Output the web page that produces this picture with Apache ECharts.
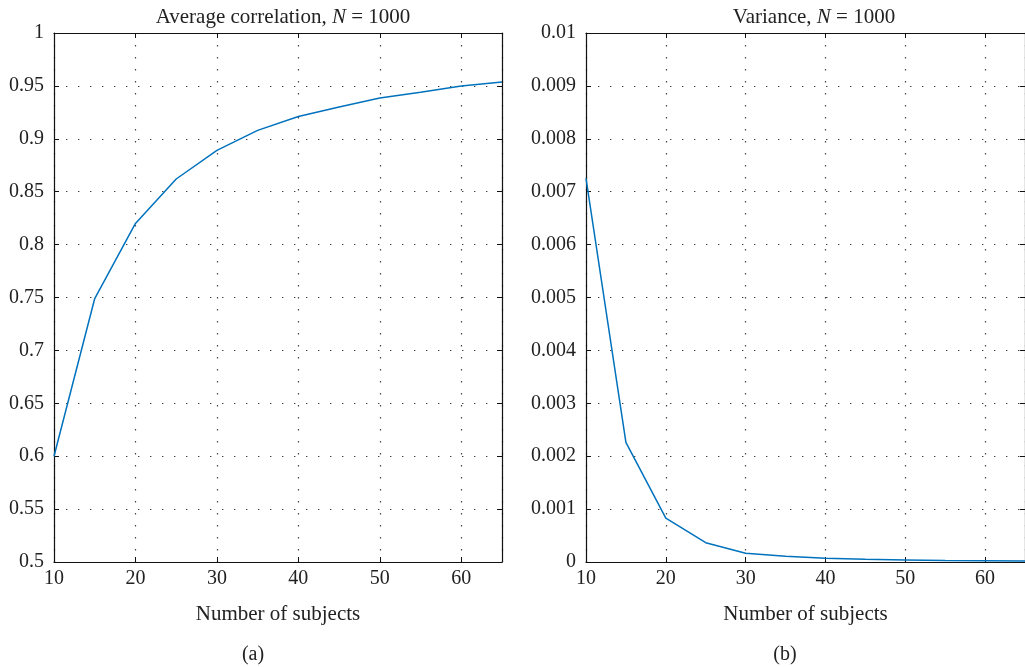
<!DOCTYPE html>
<html>
<head>
<meta charset="utf-8">
<script src="https://cdn.jsdelivr.net/npm/echarts@6/dist/echarts.min.js"></script>
<style>
  html, body { margin: 0; padding: 0; background: #fff; }
  #main { width: 1025px; height: 667px; }
</style>
</head>
<body>
<div id="main"></div>
<script>
// number of subjects (x)
var subjects = [10, 15, 20, 25, 30, 35, 40, 45, 50, 55, 60, 65];
// panel (a): average correlation
var avgCorr = [0.6, 0.749, 0.82, 0.862, 0.889, 0.908, 0.921, 0.930, 0.9385, 0.944, 0.950, 0.9537];
// panel (b): variance
var variance = [0.00725, 0.00226, 0.00083, 0.000365, 0.000165, 0.000107, 0.00007, 0.00005, 0.00004, 0.00003, 0.000025, 0.00002];

var FONT = 'Liberation Serif';
var INK = '#222';

function pairs(xs, ys) {
    return xs.map(function (x, i) { return [x, ys[i]]; });
}

var dotted = {show: true, lineStyle: {color: '#444', width: 1.2, type: [1.4, 10.6]}};

function xAxisBottom(g) {
    return {
        type: 'value', gridIndex: g, min: 10, max: 65, interval: 10,
        name: 'Number of subjects', nameLocation: 'middle', nameGap: 42,
        nameTextStyle: {fontFamily: FONT, fontSize: 21, color: INK},
        axisLine: {onZero: false, lineStyle: {color: '#111', width: 1.2}},
        axisTick: {inside: true, length: 5, lineStyle: {color: '#111'}},
        axisLabel: {fontFamily: FONT, fontSize: 20, color: INK, margin: 7, showMaxLabel: false},
        splitLine: dotted
    };
}
function xAxisTop(g) {
    return {
        type: 'value', gridIndex: g, position: 'top', min: 10, max: 65, interval: 10,
        axisLine: {onZero: false, lineStyle: {color: '#111', width: 1.2}},
        axisTick: {inside: true, length: 5, lineStyle: {color: '#111'}},
        axisLabel: {show: false},
        splitLine: {show: false}
    };
}
function yAxisLeft(g, min, max, step) {
    return {
        type: 'value', gridIndex: g, min: min, max: max, interval: step,
        axisLine: {show: true, onZero: false, lineStyle: {color: '#111', width: 1.2}},
        axisTick: {show: true, inside: true, length: 5, lineStyle: {color: '#111'}},
        axisLabel: {fontFamily: FONT, fontSize: 20, color: INK, margin: 10},
        splitLine: dotted
    };
}
function yAxisRight(g, min, max, step) {
    return {
        type: 'value', gridIndex: g, position: 'right', min: min, max: max, interval: step,
        axisLine: {show: true, onZero: false, lineStyle: {color: '#111', width: 1.2}},
        axisTick: {show: true, inside: true, length: 5, lineStyle: {color: '#111'}},
        axisLabel: {show: false},
        splitLine: {show: false}
    };
}

var titleRich = {
    a: {fontFamily: FONT, fontSize: 21, color: INK, fontWeight: 'normal'},
    i: {fontFamily: FONT, fontSize: 21, color: INK, fontWeight: 'normal', fontStyle: 'italic'}
};

var option = {
    backgroundColor: '#fff',
    animation: false,
    title: [
        {text: '{a|Average correlation, }{i|N}{a| = 1000}', left: 278, top: 2, textAlign: 'center',
            textStyle: {fontWeight: 'normal', rich: titleRich}},
        {text: '{a|Variance, }{i|N}{a| = 1000}', left: 809, top: 2, textAlign: 'center',
            textStyle: {fontWeight: 'normal', rich: titleRich}},
        {text: '(a)', left: 248, top: 640, textAlign: 'center',
            textStyle: {fontFamily: FONT, fontSize: 20, fontWeight: 'normal', color: INK}},
        {text: '(b)', left: 780, top: 640, textAlign: 'center',
            textStyle: {fontFamily: FONT, fontSize: 20, fontWeight: 'normal', color: INK}}
    ],
    grid: [
        {left: 54, top: 33, width: 448, height: 529},
        {left: 586, top: 33, width: 447, height: 529}
    ],
    xAxis: [xAxisBottom(0), xAxisTop(0), xAxisBottom(1), xAxisTop(1)],
    yAxis: [
        yAxisLeft(0, 0.5, 1, 0.05), yAxisRight(0, 0.5, 1, 0.05),
        yAxisLeft(1, 0, 0.01, 0.001), yAxisRight(1, 0, 0.01, 0.001)
    ],
    series: [
        {
            type: 'line', xAxisIndex: 0, yAxisIndex: 0,
            data: pairs(subjects, avgCorr),
            showSymbol: false, lineStyle: {color: '#0072BD', width: 1.5}
        },
        {
            type: 'line', xAxisIndex: 2, yAxisIndex: 2,
            data: pairs(subjects, variance),
            showSymbol: false, lineStyle: {color: '#0072BD', width: 1.5}
        }
    ]
};

var chart = echarts.init(document.getElementById('main'));
chart.setOption(option);
</script>
</body>
</html>
